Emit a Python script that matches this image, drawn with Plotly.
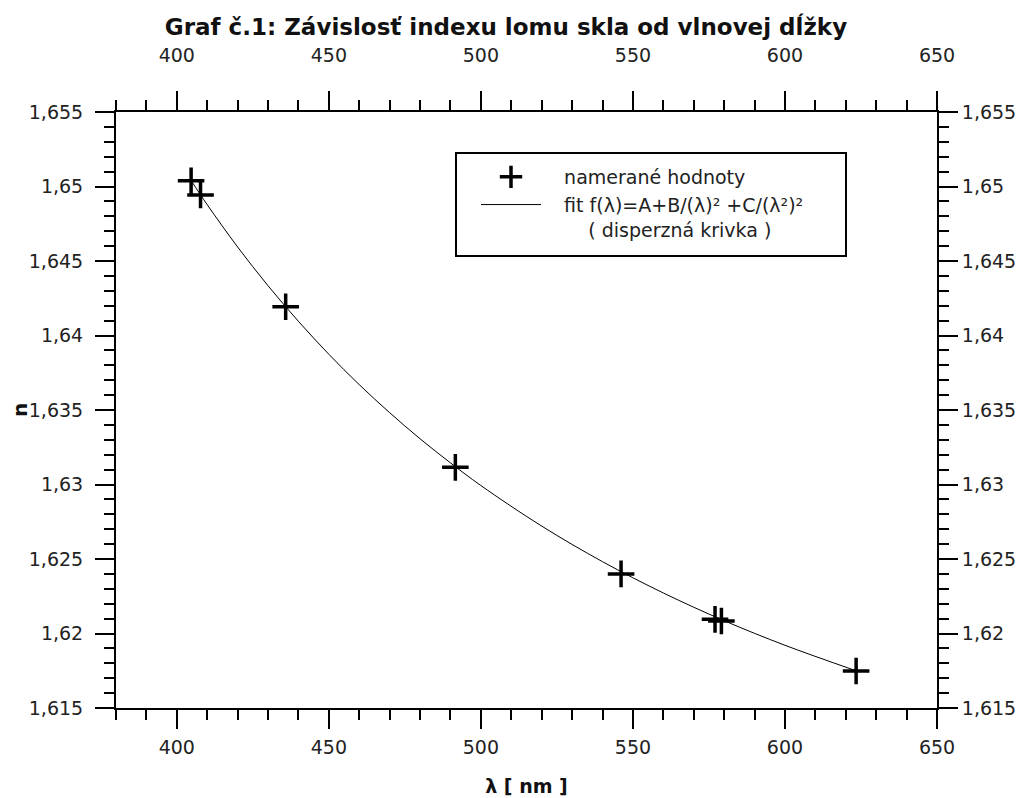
import plotly.graph_objects as go

# measured points (wavelength nm, refractive index)
lam_meas = [404.7, 407.8, 435.8, 491.6, 546.1, 577.0, 579.1, 623.4]
n_meas = [1.65039, 1.64943, 1.64193, 1.63115, 1.62400, 1.62095, 1.62084, 1.61748]

# dispersion curve
lam_fit = [404.7, 410, 420, 430, 440, 450, 460, 470, 480, 490, 500, 520, 540, 560, 580, 600, 623.4]
n_fit = [1.65040, 1.64878, 1.64594, 1.64334, 1.64095, 1.63874, 1.63670, 1.63482,
         1.63307, 1.63145, 1.62993, 1.62721, 1.62482, 1.62272, 1.62086, 1.61921, 1.61750]

x_ticks = [400, 450, 500, 550, 600, 650]
x_ticktext = ["400", "450", "500", "550", "600", "650"]
y_ticks = [1.615, 1.62, 1.625, 1.63, 1.635, 1.64, 1.645, 1.65, 1.655]
y_ticktext = ["1,615", "1,62", "1,625", "1,63", "1,635", "1,64", "1,645", "1,65", "1,655"]

FONT = "DejaVu Sans, sans-serif"
NB = "\u00a0"

# the page body has an 8px margin; work in reference-window pixels and offset
OFF = 8
W, H = 1025 - OFF, 798 - OFF
L, R, T, B = 116 - OFF, W - (937 - OFF), 112 - OFF, H - (708 - OFF)
PW, PH = W - L - R, H - T - B


def px(xp):
    return (xp - OFF - L) / PW


def py(yp):
    return (H - B - (yp - OFF)) / PH


fig = go.Figure()
fig.add_trace(go.Scatter(
    x=lam_meas, y=n_meas, mode="markers", name=NB * 3 + "namerané hodnoty",
    marker=dict(symbol="cross-thin", size=19, color="black",
                line=dict(color="black", width=3.5)),
))
fig.add_trace(go.Scatter(
    x=lam_fit, y=n_fit, mode="lines", line_shape="spline",
    name=NB * 3 + "fit f(λ)=A+B/(λ)² +C/(λ²)²<br>" + NB * 7 + "( disperzná krivka )",
    line=dict(color="black", width=1),
))
# invisible trace to anchor the top/right axes
fig.add_trace(go.Scatter(x=[lam_meas[0]], y=[n_meas[0]], xaxis="x2", yaxis="y2",
                         mode="markers", marker=dict(opacity=0), showlegend=False,
                         hoverinfo="skip"))

common_x = dict(range=[380, 650], tickmode="array", tickvals=x_ticks, ticktext=x_ticktext,
                ticks="outside", ticklen=19, tickwidth=1.5, tickcolor="black",
                showline=True, linecolor="black", linewidth=2, showgrid=False,
                zeroline=False, automargin=False,
                tickfont=dict(family=FONT, size=19, color="#222"),
                minor=dict(tickmode="linear", tick0=380, dtick=10, ticks="outside",
                           ticklen=10, tickwidth=1.5, tickcolor="black", showgrid=False))
common_y = dict(range=[1.615, 1.655], tickmode="array", tickvals=y_ticks, ticktext=y_ticktext,
                ticks="outside", ticklen=19, tickwidth=1.5, tickcolor="black",
                showline=True, linecolor="black", linewidth=2, showgrid=False,
                zeroline=False, automargin=False,
                tickfont=dict(family=FONT, size=19, color="#222"),
                minor=dict(tickmode="linear", tick0=1.615, dtick=0.001, ticks="outside",
                           ticklen=10, tickwidth=1.5, tickcolor="black", showgrid=False))

fig.update_layout(
    width=W, height=H,
    margin=dict(l=L, r=R, t=T, b=B, autoexpand=False),
    paper_bgcolor="white", plot_bgcolor="white",
    separators=",.",
    title=dict(text="<b>Graf č.1: Závislosť indexu lomu skla od vlnovej dĺžky</b>",
               x=(506 - OFF) / W, xref="container", xanchor="center",
               y=1 - (27 - OFF) / H, yref="container", yanchor="middle",
               font=dict(family=FONT, size=23, color="#111")),
    xaxis=dict(**common_x, side="bottom", ticklabelstandoff=2,
               title=dict(text="<b>λ [ nm ]</b>", font=dict(family=FONT, size=19, color="#111"),
                          standoff=23)),
    xaxis2=dict(**common_x, side="top", overlaying="x", anchor="y", ticklabelstandoff=21),
    yaxis=dict(**common_y, side="left", ticklabelstandoff=8,
               title=dict(text="<b>n</b>", font=dict(family=FONT, size=20, color="#111"),
                          standoff=9)),
    yaxis2=dict(**common_y, side="right", overlaying="y", anchor="x", ticklabelstandoff=0),
    legend=dict(x=px(476), y=py(158), xanchor="left", yanchor="top",
                borderwidth=0, bgcolor="rgba(0,0,0,0)", valign="top",
                font=dict(family=FONT, size=19, color="#222"),
                itemwidth=60, tracegroupgap=0),
    showlegend=True,
    shapes=[dict(type="rect", xref="paper", yref="paper",
                 x0=px(456), x1=px(846), y0=py(256), y1=py(153),
                 line=dict(color="black", width=2), fillcolor="white", layer="below")],
)

fig.write_html("out.html")
